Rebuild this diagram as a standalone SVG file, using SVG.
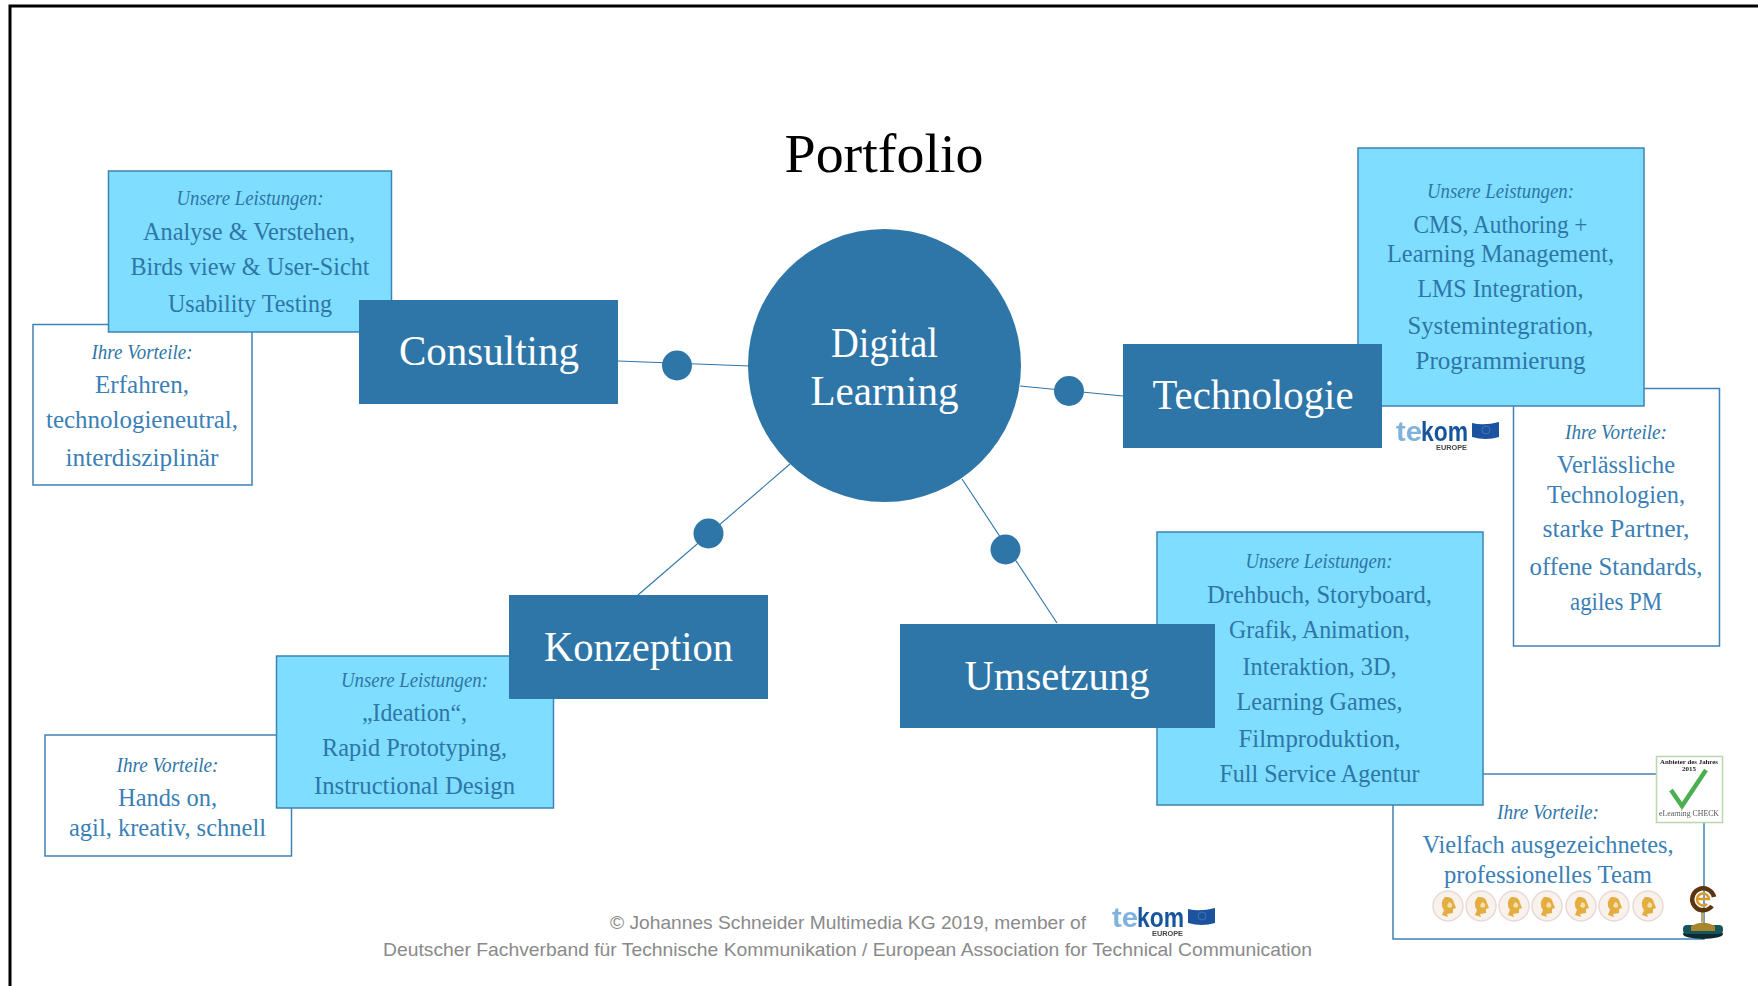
<svg xmlns="http://www.w3.org/2000/svg" xmlns:xlink="http://www.w3.org/1999/xlink" width="1758" height="986" viewBox="0 0 1758 986">
<style>
text{font-family:"Liberation Serif","Times New Roman",serif;text-anchor:middle}
.dark{fill:#2e75a8}
.svc{fill:#7fdeff;stroke:#3f82b5;stroke-width:1.5}
.adv{fill:#fff;stroke:#3f82b5;stroke-width:1.5}
.t{fill:#2e75a8;font-size:25px}
.w{fill:#3a80b6}
.h{fill:#2e75a8;font-size:21px;font-style:italic}
.b{fill:#fff;font-size:43px}
.l{stroke:#2e75a8;stroke-width:1.1;fill:none}
.f{fill:#8a8a8a;font-family:"Liberation Sans",Arial,sans-serif;font-size:18.5px;text-anchor:start}
.lg{font-family:"Liberation Sans",Arial,sans-serif;font-weight:bold;text-anchor:start}
</style>
<defs>
<filter id="soft" x="-10%" y="-10%" width="120%" height="120%"><feGaussianBlur stdDeviation="0.7"/></filter>
<g id="tekom" filter="url(#soft)">
<text class="lg" x="0" y="19" font-size="27" fill="#7fb2dc" textLength="26" lengthAdjust="spacingAndGlyphs">te</text>
<text class="lg" x="25" y="19" font-size="27" fill="#17549c" textLength="47" lengthAdjust="spacingAndGlyphs">kom</text>
<path d="M76 1 Q88 4 103 0 V15 Q90 19 76 15Z" fill="#1c539f"/>
<circle cx="90" cy="8" r="4" fill="none" stroke="#3f73b5" stroke-width="1"/>
<text class="lg" x="40" y="28" font-size="7.5" fill="#444" textLength="31" lengthAdjust="spacingAndGlyphs">EUROPE</text>
</g>
<g id="medal" filter="url(#soft)">
<circle r="15" fill="#f8f1ec" stroke="#e8d8d4" stroke-width="1.4"/>
<path d="M-3 -9 Q5 -10 6 -3 L8 2 L5 3 L5 7 L-1 8 L0 11 L-6 9 L-4 4 Q-9 -3 -3 -9Z" fill="#e3ad3f"/>
<path d="M1 -4 Q5 -3 4 1 Q1 3 -1 0Z" fill="#f3e0ad"/>
</g>
</defs>

<path id="frame" d="M10 986V6H1758" fill="none" stroke="#000" stroke-width="3"/>
<text id="title" x="884" y="172" font-size="55" fill="#000" textLength="199" lengthAdjust="spacingAndGlyphs">Portfolio</text>

<g id="connectors">
<path class="l" d="M618 361L750 366"/>
<path class="l" d="M1020 386L1123 396"/>
<path class="l" d="M790 464L638 595"/>
<path class="l" d="M962 479L1057 623"/>
<circle class="dark" cx="677" cy="365.5" r="15"/>
<circle class="dark" cx="1069" cy="391" r="15"/>
<circle class="dark" cx="708.5" cy="533.5" r="15"/>
<circle class="dark" cx="1005.5" cy="549.5" r="15"/>
</g>

<g id="center">
<circle class="dark" cx="884.5" cy="365.5" r="136.5"/>
<text class="b" x="884.5" y="357" textLength="107" lengthAdjust="spacingAndGlyphs">Digital</text>
<text class="b" x="884.5" y="405" textLength="148" lengthAdjust="spacingAndGlyphs">Learning</text>
</g>

<g id="consulting-vorteile">
<rect class="adv" x="33" y="324.5" width="219" height="160.5"/>
<text class="h w" x="142" y="359" textLength="101" lengthAdjust="spacingAndGlyphs">Ihre Vorteile:</text>
<text class="t w" x="142" y="393" textLength="94" lengthAdjust="spacingAndGlyphs">Erfahren,</text>
<text class="t w" x="142" y="428" textLength="192" lengthAdjust="spacingAndGlyphs">technologieneutral,</text>
<text class="t w" x="142" y="466" textLength="153" lengthAdjust="spacingAndGlyphs">interdisziplinär</text>
</g>
<g id="consulting-leistungen">
<rect class="svc" x="108.5" y="171" width="283" height="161"/>
<text class="h" x="250" y="205" textLength="147" lengthAdjust="spacingAndGlyphs">Unsere Leistungen:</text>
<text class="t" x="249" y="240" textLength="212" lengthAdjust="spacingAndGlyphs">Analyse &amp; Verstehen,</text>
<text class="t" x="250" y="275" textLength="239" lengthAdjust="spacingAndGlyphs">Birds view &amp; User-Sicht</text>
<text class="t" x="250" y="312" textLength="164" lengthAdjust="spacingAndGlyphs">Usability Testing</text>
</g>
<g id="consulting">
<rect class="dark" x="359" y="300" width="259" height="104"/>
<text class="b" x="489" y="365" textLength="180" lengthAdjust="spacingAndGlyphs">Consulting</text>
</g>

<g id="technologie-vorteile">
<rect class="adv" x="1513.5" y="388.5" width="206" height="257.5"/>
<text class="h w" x="1616" y="439" textLength="102" lengthAdjust="spacingAndGlyphs">Ihre Vorteile:</text>
<text class="t w" x="1616" y="473" textLength="118" lengthAdjust="spacingAndGlyphs">Verlässliche</text>
<text class="t w" x="1616" y="503" textLength="138" lengthAdjust="spacingAndGlyphs">Technologien,</text>
<text class="t w" x="1616" y="537" textLength="147" lengthAdjust="spacingAndGlyphs">starke Partner,</text>
<text class="t w" x="1616" y="575" textLength="173" lengthAdjust="spacingAndGlyphs">offene Standards,</text>
<text class="t w" x="1616" y="610" textLength="92" lengthAdjust="spacingAndGlyphs">agiles PM</text>
</g>
<g id="technologie-leistungen">
<rect class="svc" x="1358" y="148" width="286" height="258"/>
<text class="h" x="1500.5" y="198" textLength="147" lengthAdjust="spacingAndGlyphs">Unsere Leistungen:</text>
<text class="t" x="1500.5" y="233" textLength="174" lengthAdjust="spacingAndGlyphs">CMS, Authoring +</text>
<text class="t" x="1500.5" y="262" textLength="227" lengthAdjust="spacingAndGlyphs">Learning Management,</text>
<text class="t" x="1500.5" y="297" textLength="166" lengthAdjust="spacingAndGlyphs">LMS Integration,</text>
<text class="t" x="1500.5" y="334" textLength="186" lengthAdjust="spacingAndGlyphs">Systemintegration,</text>
<text class="t" x="1500.5" y="369" textLength="170" lengthAdjust="spacingAndGlyphs">Programmierung</text>
</g>
<g id="technologie">
<rect class="dark" x="1123" y="344" width="259" height="104"/>
<text class="b" x="1253" y="409" textLength="201" lengthAdjust="spacingAndGlyphs">Technologie</text>
</g>
<use id="tekom-technologie" xlink:href="#tekom" href="#tekom" x="1396" y="422"/>

<g id="konzeption-vorteile">
<rect class="adv" x="45" y="735" width="246.5" height="121"/>
<text class="h w" x="167.5" y="772" textLength="102" lengthAdjust="spacingAndGlyphs">Ihre Vorteile:</text>
<text class="t w" x="167.5" y="806" textLength="99" lengthAdjust="spacingAndGlyphs">Hands on,</text>
<text class="t w" x="167.5" y="836" textLength="197" lengthAdjust="spacingAndGlyphs">agil, kreativ, schnell</text>
</g>
<g id="konzeption-leistungen">
<rect class="svc" x="276.5" y="656" width="277" height="152"/>
<text class="h" x="414.5" y="687" textLength="147" lengthAdjust="spacingAndGlyphs">Unsere Leistungen:</text>
<text class="t" x="414.5" y="721" textLength="105" lengthAdjust="spacingAndGlyphs">„Ideation“,</text>
<text class="t" x="414.5" y="756" textLength="185" lengthAdjust="spacingAndGlyphs">Rapid Prototyping,</text>
<text class="t" x="414.5" y="794" textLength="201" lengthAdjust="spacingAndGlyphs">Instructional Design</text>
</g>
<g id="konzeption">
<rect class="dark" x="509" y="595" width="259" height="104"/>
<text class="b" x="638.5" y="661" textLength="189" lengthAdjust="spacingAndGlyphs">Konzeption</text>
</g>

<g id="umsetzung-vorteile">
<rect class="adv" x="1393" y="774" width="311" height="165"/>
<text class="h w" x="1548" y="819" textLength="102" lengthAdjust="spacingAndGlyphs">Ihre Vorteile:</text>
<text class="t w" x="1548" y="853" textLength="251" lengthAdjust="spacingAndGlyphs">Vielfach ausgezeichnetes,</text>
<text class="t w" x="1548" y="883" textLength="208" lengthAdjust="spacingAndGlyphs">professionelles Team</text>
</g>
<g id="umsetzung-leistungen">
<rect class="svc" x="1157" y="532" width="326" height="273"/>
<text class="h" x="1319" y="568" textLength="147" lengthAdjust="spacingAndGlyphs">Unsere Leistungen:</text>
<text class="t" x="1319.5" y="603" textLength="225" lengthAdjust="spacingAndGlyphs">Drehbuch, Storyboard,</text>
<text class="t" x="1319.5" y="638" textLength="181" lengthAdjust="spacingAndGlyphs">Grafik, Animation,</text>
<text class="t" x="1319.5" y="675" textLength="154" lengthAdjust="spacingAndGlyphs">Interaktion, 3D,</text>
<text class="t" x="1319.5" y="710" textLength="166" lengthAdjust="spacingAndGlyphs">Learning Games,</text>
<text class="t" x="1319.5" y="747" textLength="162" lengthAdjust="spacingAndGlyphs">Filmproduktion,</text>
<text class="t" x="1319.5" y="782" textLength="200" lengthAdjust="spacingAndGlyphs">Full Service Agentur</text>
</g>
<g id="umsetzung">
<rect class="dark" x="900" y="624" width="315" height="104"/>
<text class="b" x="1057" y="690" textLength="185" lengthAdjust="spacingAndGlyphs">Umsetzung</text>
</g>

<g id="badges">
<use xlink:href="#medal" href="#medal" x="1448" y="906"/>
<use xlink:href="#medal" href="#medal" x="1481" y="906"/>
<use xlink:href="#medal" href="#medal" x="1514" y="906"/>
<use xlink:href="#medal" href="#medal" x="1547" y="906"/>
<use xlink:href="#medal" href="#medal" x="1581" y="906"/>
<use xlink:href="#medal" href="#medal" x="1614" y="906"/>
<use xlink:href="#medal" href="#medal" x="1648" y="906"/>
<g id="elearning-check" filter="url(#soft)">
<rect x="1656.5" y="756.5" width="66" height="66" fill="#fff" stroke="#b8d8b0" stroke-width="1.5"/>
<text x="1689" y="764" font-size="7" font-weight="bold" fill="#222" textLength="58" lengthAdjust="spacingAndGlyphs">Anbieter des Jahres</text>
<text x="1689" y="771" font-size="7" font-weight="bold" fill="#222">2015</text>
<path d="M1671 790L1682 806L1706 770" fill="none" stroke="#4caf50" stroke-width="4.5"/>
<text x="1689" y="816" font-size="7.5" fill="#555" textLength="60" lengthAdjust="spacingAndGlyphs">eLearning CHECK</text>
</g>
<g id="trophy" filter="url(#soft)">
<ellipse cx="1703" cy="934" rx="20" ry="5" fill="#0c2c30"/>
<rect x="1683" y="925" width="40" height="9" rx="4" fill="#17565a"/>
<path d="M1691 926Q1703 919 1715 926V931H1691Z" fill="#a8842e"/>
<rect x="1701" y="911" width="3" height="11" fill="#b5a878"/>
<path d="M1712 906A11 11 0 1 1 1714 897" fill="none" stroke="#5a3410" stroke-width="4.5"/>
<path d="M1697 899H1709A6 6 0 1 0 1707 904" fill="none" stroke="#d99a2b" stroke-width="2.5"/>
</g>
</g>

<g id="footer">
<text class="f" x="610" y="929" textLength="476" lengthAdjust="spacingAndGlyphs">© Johannes Schneider Multimedia KG 2019, member of</text>
<text class="f" x="383" y="956" textLength="929" lengthAdjust="spacingAndGlyphs">Deutscher Fachverband für Technische Kommunikation / European Association for Technical Communication</text>
<use xlink:href="#tekom" href="#tekom" x="1112" y="908"/>
</g>
</svg>
